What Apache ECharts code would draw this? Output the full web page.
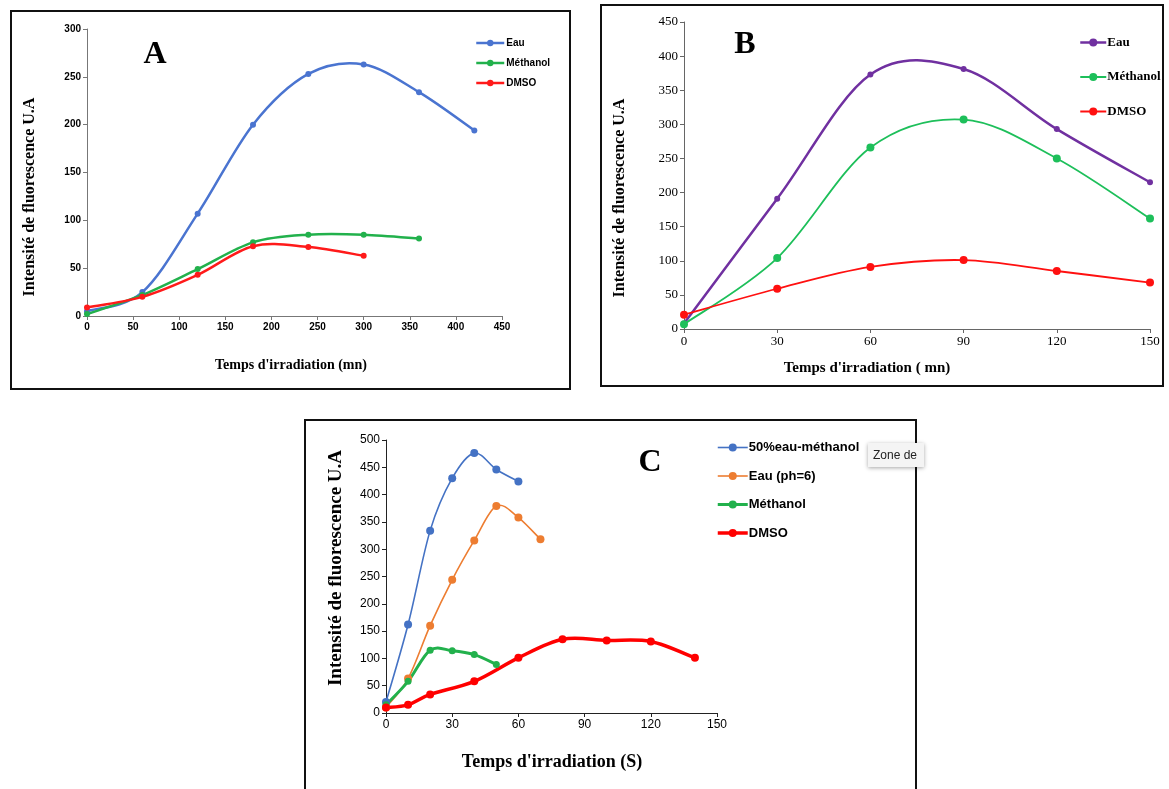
<!DOCTYPE html>
<html><head><meta charset="utf-8">
<script src="https://cdn.jsdelivr.net/npm/echarts@6/dist/echarts.min.js"></script>
<style>
html,body{margin:0;padding:0;background:#fff;width:1169px;height:789px;overflow:hidden;position:relative;}
.chart{position:absolute;}
.box{position:absolute;border:2px solid #111;box-sizing:border-box;pointer-events:none;}
#zone{position:absolute;left:868px;top:443px;width:56px;height:24px;background:#f4f4f4;box-shadow:0 1px 4px rgba(0,0,0,0.35);font-family:'Liberation Sans',sans-serif;font-size:12px;line-height:24px;padding-left:5px;box-sizing:border-box;overflow:hidden;white-space:nowrap;color:#222;}
</style></head>
<body>
<div id="cA" class="chart" style="left:10px;top:10px;width:560px;height:379px"></div>
<div id="cB" class="chart" style="left:601px;top:5px;width:562px;height:381px"></div>
<div id="cC" class="chart" style="left:305px;top:420px;width:611px;height:380px"></div>
<div class="box" style="left:10px;top:10px;width:561px;height:380px"></div>
<div class="box" style="left:600px;top:4px;width:564px;height:383px"></div>
<div class="box" style="left:304px;top:419px;width:613px;height:390px"></div>
<div id="zone">Zone de</div>
<script>
// ---------- Panel A data ----------
const aX = [0, 60, 120, 180, 240, 300, 360, 420];
const aEau = [5, 25, 107, 200, 253, 263, 234, 194];
const aMeth = [2, 22, 49, 77, 85, 85, 81];
const aDmso = [9, 20, 43, 73, 72, 63];
// ---------- Panel B data ----------
const bX = [0, 30, 60, 90, 120, 150];
const bEau = [8, 191, 373, 381, 293, 215];
const bMeth = [7, 104, 266, 307, 250, 162];
const bDmso = [21, 59, 91, 101, 85, 68];
// ---------- Panel C data ----------
const cMixX = [0, 10, 20, 30, 40, 50, 60];
const cMix = [20, 162, 334, 430, 476, 446, 424];
const cEauX = [0, 10, 20, 30, 40, 50, 60, 70];
const cEau = [10, 63, 160, 244, 316, 379, 358, 318];
const cMethX = [0, 10, 20, 30, 40, 50];
const cMeth = [15, 58, 115, 114, 107, 89];
const cDmsoX = [0, 10, 20, 40, 60, 80, 100, 120, 140];
const cDmso = [10, 15, 34, 58, 101, 135, 133, 131, 101];

const yTitle = 'Intensité de fluorescence U.A';
function pairs(xs, ys) { return ys.map((y, i) => [xs[i], y]); }
const SERIF = "'Liberation Serif','Times New Roman',serif";
const SANS = "'Liberation Sans Narrow','Liberation Sans',Arial,sans-serif";
const SANS2 = "'Liberation Sans',Arial,sans-serif";

// markers (line hidden; curve drawn by spline series below)
function marks(name, xs, ys, color, sym) {
  return {name, type: 'line', data: pairs(xs, ys), symbol: 'circle', symbolSize: sym, showSymbol: true,
    lineStyle: {opacity: 0, color}, itemStyle: {color}, emphasis: {disabled: true}, z: 4};
}
// Excel-like smooth curve through the points, positioned by the chart's own axes
function spline(xs, ys, color, lw, k) {
  return {type: 'custom', silent: true, z: 3, data: [[xs[0], ys[0]]],
    renderItem: function (params, api) {
      const p = ys.map((y, i) => api.coord([xs[i], y]));
      const n = p.length;
      let d = 'M' + p[0][0] + ' ' + p[0][1];
      for (let i = 0; i < n - 1; i++) {
        const p0 = p[Math.max(i - 1, 0)], p1 = p[i], p2 = p[i + 1], p3 = p[Math.min(i + 2, n - 1)];
        const c1 = [p1[0] + (p2[0] - p0[0]) * k, p1[1] + (p2[1] - p0[1]) * k];
        const c2 = [p2[0] - (p3[0] - p1[0]) * k, p2[1] - (p3[1] - p1[1]) * k];
        d += ' C' + c1[0] + ' ' + c1[1] + ' ' + c2[0] + ' ' + c2[1] + ' ' + p2[0] + ' ' + p2[1];
      }
      return {type: 'path', shape: {pathData: d},
        style: {stroke: color, lineWidth: lw, fill: null, lineJoin: 'round', lineCap: 'round'}};
    }};
}
function legItem(name, color, lw) {
  return {name, lineStyle: {color, width: lw, opacity: 1, type: 'solid'}, itemStyle: {color}};
}
function axis(min, max, interval, font, size, weight, color, lineColor) {
  return {type: 'value', min, max, interval,
    axisLine: {show: true, onZero: false, lineStyle: {color: lineColor, width: 1}},
    axisTick: {show: true, length: 4, lineStyle: {color: lineColor}},
    splitLine: {show: false},
    axisLabel: {fontFamily: font, fontSize: size, fontWeight: weight, color, margin: 6}};
}
function txt(x, y, text, font, size, rot) {
  return {type: 'text', x, y, rotation: rot || 0,
    style: {text, font: 'bold ' + size + 'px ' + font, fill: '#000', align: 'center', verticalAlign: 'middle'}};
}

// ---------- Chart A ----------
const A_COL = ['#4a74d0', '#22b14c', '#ff1a1a'];
const chA = echarts.init(document.getElementById('cA'));
chA.setOption({
  animation: false,
  grid: {left: 77, top: 19, width: 415, height: 287},
  xAxis: axis(0, 450, 50, SANS, 10, 'bold', '#000', '#777'),
  yAxis: axis(0, 300, 50, SANS, 10, 'bold', '#000', '#777'),
  legend: {orient: 'vertical', left: 460, top: 23, itemWidth: 28, itemHeight: 8, itemGap: 10,
    textStyle: {fontFamily: SANS, fontSize: 10, fontWeight: 'bold', color: '#000', padding: [0, 0, 0, -3]},
    data: [legItem('Eau', A_COL[0], 2.5), legItem('Méthanol', A_COL[1], 2.5), legItem('DMSO', A_COL[2], 2.5)]},
  graphic: [
    txt(145, 45, 'A', SERIF, 32),
    txt(20, 187, yTitle, SERIF, 16, Math.PI / 2),
    txt(281, 355, "Temps d'irradiation (mn)", SERIF, 14)
  ],
  series: [
    spline(aX, aEau, A_COL[0], 2.5, 1 / 6),
    spline(aX, aMeth, A_COL[1], 2.5, 1 / 6),
    spline(aX, aDmso, A_COL[2], 2.5, 1 / 6),
    marks('Eau', aX, aEau, A_COL[0], 6),
    marks('Méthanol', aX, aMeth, A_COL[1], 6),
    marks('DMSO', aX, aDmso, A_COL[2], 6)
  ]
});

// ---------- Chart B ----------
const B_COL = ['#7030a0', '#1dbf5a', '#ff1010'];
const chB = echarts.init(document.getElementById('cB'));
chB.setOption({
  animation: false,
  grid: {left: 83, top: 17, width: 466, height: 307},
  xAxis: axis(0, 150, 30, SERIF, 13, 'normal', '#000', '#666'),
  yAxis: axis(0, 450, 50, SERIF, 13, 'normal', '#000', '#666'),
  legend: {orient: 'vertical', left: 473, top: 26, itemWidth: 26, itemHeight: 10, itemGap: 21.5,
    textStyle: {fontFamily: SERIF, fontSize: 13, fontWeight: 'bold', color: '#000', padding: [0, 0, 0, -4]},
    data: [legItem('Eau', B_COL[0], 2.5), legItem('Méthanol', B_COL[1], 2), legItem('DMSO', B_COL[2], 2)]},
  graphic: [
    txt(144, 40, 'B', SERIF, 32),
    txt(19, 193, yTitle, SERIF, 16, Math.PI / 2),
    txt(266, 363, "Temps d'irradiation ( mn)", SERIF, 15)
  ],
  series: [
    spline(bX, bEau, B_COL[0], 2.5, 1 / 6),
    spline(bX, bMeth, B_COL[1], 1.8, 1 / 6),
    spline(bX, bDmso, B_COL[2], 1.8, 1 / 6),
    marks('Eau', bX, bEau, B_COL[0], 6),
    marks('Méthanol', bX, bMeth, B_COL[1], 8),
    marks('DMSO', bX, bDmso, B_COL[2], 8)
  ]
});

// ---------- Chart C ----------
const C_COL = ['#4472c4', '#ed7d31', '#22b14c', '#ff0000'];
const chC = echarts.init(document.getElementById('cC'));
chC.setOption({
  animation: false,
  grid: {left: 81, top: 20, width: 331, height: 273},
  xAxis: axis(0, 150, 30, SANS2, 12, 'normal', '#000', '#222'),
  yAxis: axis(0, 500, 50, SANS2, 12, 'normal', '#000', '#222'),
  legend: {orient: 'vertical', left: 406, top: 16, itemWidth: 30, itemHeight: 10, itemGap: 15.5,
    textStyle: {fontFamily: SANS, fontSize: 13, fontWeight: 'bold', color: '#000', padding: [0, 0, 0, -4]},
    data: [legItem('50%eau-méthanol', C_COL[0], 1.6), legItem('Eau (ph=6)', C_COL[1], 1.6),
           legItem('Méthanol', C_COL[2], 3), legItem('DMSO', C_COL[3], 3.5)]},
  graphic: [
    txt(345, 43, 'C', SERIF, 32),
    txt(31, 148, yTitle, SERIF, 19, Math.PI / 2),
    txt(247, 342, "Temps d'irradiation (S)", SERIF, 18)
  ],
  series: [
    spline(cMixX, cMix, C_COL[0], 1.6, 1 / 6),
    spline(cEauX, cEau, C_COL[1], 1.6, 1 / 6),
    spline(cMethX, cMeth, C_COL[2], 3, 1 / 6),
    spline(cDmsoX, cDmso, C_COL[3], 3.5, 1 / 6),
    marks('50%eau-méthanol', cMixX, cMix, C_COL[0], 8),
    marks('Eau (ph=6)', cEauX, cEau, C_COL[1], 8),
    marks('Méthanol', cMethX, cMeth, C_COL[2], 7),
    marks('DMSO', cDmsoX, cDmso, C_COL[3], 8)
  ]
});
</script>
</body></html>
